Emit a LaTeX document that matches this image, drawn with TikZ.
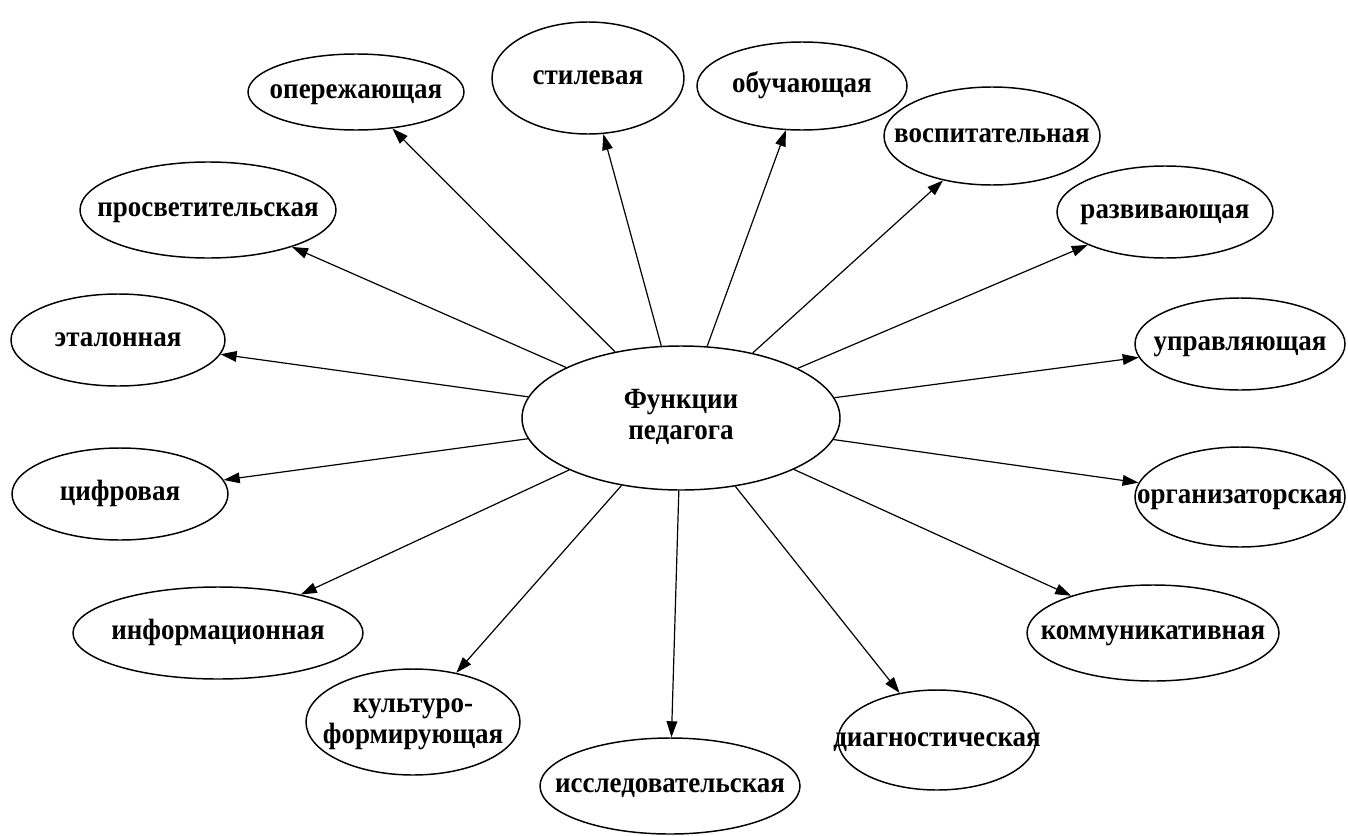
\documentclass[tikz,border=0pt]{standalone}
\usepackage{fontspec}
\setmainfont[FakeStretch=0.92]{Liberation Serif}
\usetikzlibrary{shapes.geometric,arrows.meta}
\newcommand{\lbl}[1]{\makebox[0pt]{\begin{tabular}{@{}c@{}}#1\end{tabular}}}
\tikzset{
  fn/.style 2 args={ellipse,draw,line width=1.1pt,inner sep=0pt,
    minimum width={#1*0.75pt},minimum height={#2*0.75pt},
    font=\bfseries\fontsize{22}{23.5}\selectfont},
  arr/.style={line width=0.9pt,-{Triangle[length=12pt,width=8pt]}}
}
\begin{document}
\begin{tikzpicture}[x=0.75pt,y=-0.75pt]
\useasboundingbox (0,0) rectangle (1348,835);
\node[fn={318}{144}] (c) at (681,418) {\lbl{Функции\\педагога}};
\node[fn={216}{76}] (n1) at (356,92) {\lbl{опережающая}};
\node[fn={192}{112}] (n2) at (588,78) {\lbl{стилевая}};
\node[fn={210}{88}] (n3) at (802,86) {\lbl{обучающая}};
\node[fn={216}{98}] (n4) at (992,136) {\lbl{воспитательная}};
\node[fn={216}{92}] (n5) at (1165,212) {\lbl{развивающая}};
\node[fn={210}{92}] (n6) at (1240,344) {\lbl{управляющая}};
\node[fn={210}{100}] (n7) at (1240,497) {\lbl{организаторская}};
\node[fn={252}{96}] (n8) at (1153,633) {\lbl{коммуникативная}};
\node[fn={198}{100}] (n9) at (937,740) {\lbl{диагностическая}};
\node[fn={260}{96}] (n10) at (670,786) {\lbl{исследовательская}};
\node[fn={214}{106}] (n11) at (413,722) {\lbl{культуро-\\формирующая}};
\node[fn={290}{92}] (n12) at (218,633) {\lbl{информационная}};
\node[fn={216}{92}] (n13) at (120,494) {\lbl{цифровая}};
\node[fn={214}{92}] (n14) at (118,340) {\lbl{эталонная}};
\node[fn={256}{96}] (n15) at (208,210) {\lbl{просветительская}};
\foreach \t in {n1,n2,n3,n4,n5,n6,n7,n8,n9,n10,n11,n12,n13,n14,n15}
  \draw[arr] (c) -- (\t);
\end{tikzpicture}
\end{document}
